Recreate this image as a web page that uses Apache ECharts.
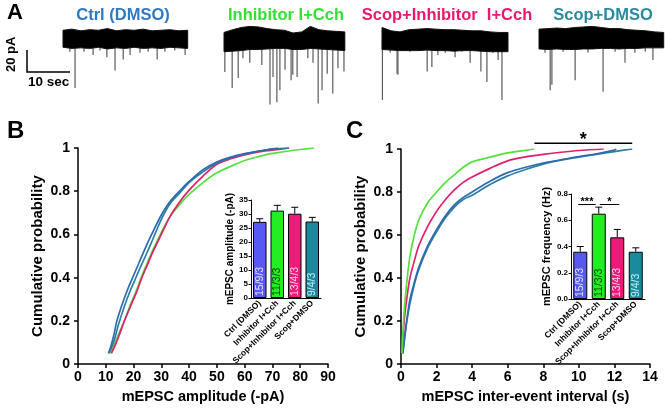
<!DOCTYPE html>
<html><head><meta charset="utf-8">
<script src="https://cdn.jsdelivr.net/npm/echarts@6/dist/echarts.min.js"></script>
<style>html,body{margin:0;padding:0;background:#fff}#c{width:666px;height:409px}</style>
</head><body><div id="c"></div>
<script>
// ---------- DATA ----------
const groups = ['Ctrl (DMSO)', 'Inhibitor I+Cch', 'Scop+Inhibitor I+Cch', 'Scop+DMSO'];
const traceTitles = ['Ctrl (DMSO)', 'Inhibitor I+Cch', 'Scop+Inhibitor  I+Cch', 'Scop+DMSO'];
const nLabels = ['15/9/3', '11/3/3', '13/4/3', '9/4/3'];

// Panel A traces (seconds, pA)
const traceDur = [29, 28.1, 29.3, 29];
const bandTop = [
  [8.5, 9.5, 8, 9, 8.5, 10, 8, 9, 8.5, 9.5, 8, 8.5, 9, 8, 8.5],
  [6.5, 9, 11, 12, 11.5, 10, 9, 8.5, 6, 7, 12, 9, 8, 7.5, 7],
  [11, 8, 7, 9, 9.5, 10, 9.5, 9, 9, 8.5, 8, 8, 7, 6.5, 6.5],
  [9.5, 10, 10.5, 10, 11, 11.5, 12, 11, 10, 10, 9, 8.5, 8, 7, 6.5]
];
const bandBot = [
  [-7, -8, -7.5, -8, -7, -8.5, -7.5, -8, -7, -8, -7.5, -8, -7, -7.5, -8],
  [-11, -10.5, -10, -9, -9, -8.5, -8, -8, -9, -9, -8, -8.5, -9, -9.5, -10],
  [-9, -9.5, -10, -10, -10, -9.5, -10, -10, -10.5, -10, -10, -10.5, -11, -11, -11],
  [-8.5, -9, -8.5, -9, -9, -8.5, -8.5, -8, -8, -8.5, -8, -8, -7.5, -7.5, -7.5]
];
const spikeT = [
  [1.6, 2.8, 4.9, 7.0, 8.6, 10.2, 12.1, 14.0, 15.6, 17.9, 19.8, 21.9, 23.7, 26.0, 28.4],
  [0.2, 1.9, 3.3, 4.4, 6.0, 8.8, 10.7, 11.4, 12.3, 13.0, 14.2, 15.6, 16.0, 17.0, 19.5, 20.7, 21.9, 22.8, 24.0, 25.3, 26.5, 27.9],
  [0.1, 1.9, 3.5, 3.7, 6.5, 10.5, 11.6, 13.0, 14.7, 17.0, 18.6, 20.5, 23.0, 24.4, 25.8, 27.0, 27.9],
  [1.4, 2.6, 3.0, 5.6, 8.4, 11.4, 14.9, 17.7, 20.0, 22.3, 24.7, 26.5]
];
const spikeA = [
  [-11, -44, -11, -14, -10, -16, -28, -18, -14, -12, -11, -18, -11, -10, -14],
  [-29.5, -44, -35, -17, -21, -23, -59, -34, -57, -46, -27.5, -37, -32, -34, -17, -21, -58, -46, -31, -49, -26, -29],
  [-55, -12, -31, -32, -11, -29, -25, -14, -12, -16, -11, -21, -29, -38.5, -12, -18.5, -55],
  [-12, -46, -41, -11, -37, -12, -47.5, -11, -21, -12, -11, -18.5]
];

// Panel B: amplitude CDFs [pA, probability]
const ampCtrl = [[11,0.05],[12,0.09],[13,0.14],[14,0.2],[16,0.28],[18,0.35],[20,0.41],[22,0.47],[24,0.53],[26.5,0.6],[30,0.69],[33,0.75],[36.5,0.8],[40,0.845],[45,0.9],[50,0.935],[55,0.958],[60,0.974],[65,0.986],[70,0.996],[72,1]];
const ampInh = [[11.5,0.05],[13,0.09],[15,0.15],[17,0.21],[19,0.28],[21,0.34],[23,0.41],[25,0.47],[27,0.53],[30,0.61],[33,0.68],[36,0.73],[40,0.785],[45,0.84],[50,0.885],[55,0.915],[60,0.942],[65,0.96],[70,0.975],[75,0.985],[80,0.993],[85,1]];
const ampScopInh = [[12,0.05],[13.5,0.09],[15,0.14],[17,0.21],[19,0.27],[21,0.33],[23,0.4],[25,0.46],[27,0.52],[30,0.6],[33,0.68],[36,0.74],[40,0.805],[45,0.87],[50,0.925],[55,0.95],[60,0.968],[65,0.982],[70,0.99],[73,0.995],[76,1]];
const ampScopDmso = [[11,0.05],[12.5,0.09],[13.5,0.13],[14.5,0.18],[16.5,0.26],[18.5,0.33],[20.5,0.39],[22.5,0.45],[25,0.52],[27,0.58],[30,0.67],[33,0.74],[36.5,0.79],[40,0.84],[45,0.89],[50,0.93],[55,0.955],[60,0.972],[65,0.985],[70,0.995],[76,1]];

// Panel C: inter-event interval CDFs [s, probability]
const iviCtrl = [[0.1,0.05],[0.15,0.09],[0.25,0.16],[0.35,0.22],[0.5,0.3],[0.75,0.38],[1,0.45],[1.5,0.55],[2,0.625],[2.5,0.69],[3,0.74],[3.5,0.775],[4,0.8],[5,0.85],[6,0.89],[7,0.915],[8,0.935],[9,0.95],[10,0.965],[11,0.978],[12,0.995],[12.1,1]];
const iviInh = [[0.05,0.05],[0.1,0.14],[0.2,0.27],[0.35,0.4],[0.5,0.5],[0.75,0.6],[1,0.67],[1.5,0.75],[2,0.8],[2.5,0.845],[3,0.88],[3.5,0.915],[4,0.94],[5,0.962],[6,0.982],[7,0.994],[7.5,1]];
const iviScopInh = [[0.05,0.05],[0.1,0.11],[0.2,0.22],[0.35,0.32],[0.5,0.4],[0.75,0.48],[1,0.55],[1.5,0.64],[2,0.71],[2.5,0.765],[3,0.81],[3.5,0.845],[4,0.87],[5,0.91],[6,0.945],[7,0.963],[8,0.975],[9,0.985],[10,0.993],[11.4,1]];
const iviScopDmso = [[0.1,0.05],[0.15,0.08],[0.25,0.15],[0.35,0.21],[0.5,0.28],[0.75,0.37],[1,0.44],[1.5,0.54],[2,0.615],[2.5,0.68],[3,0.73],[3.5,0.765],[4,0.785],[5,0.835],[6,0.875],[7,0.905],[8,0.93],[9,0.948],[10,0.962],[11,0.975],[12,0.988],[13,1]];

// Insets: mean and mean+SEM
const ampMean = [27.2, 31.2, 30.1, 27.3];
const ampErr  = [28.3, 33.1, 32.4, 28.8];
const freqMean = [0.36, 0.65, 0.47, 0.36];
const freqErr  = [0.40, 0.70, 0.53, 0.39];
const mainSig = [7.5, 13, 1.027, '*'];
const insetSig = [[0, 1, 0.72, '***'], [1, 2, 0.72, '*']];

// ---------- STYLE ----------
const FONT = '"Liberation Sans", Arial, sans-serif';
const titleCol = ['#2f78c4', '#33e033', '#e8196e', '#2a8aa0'];
const lineCol = ['#2e6aad', '#55e040', '#e0206a', '#2b7fa6'];
const barCol = ['#5858f4', '#22ee22', '#ee1a7a', '#1a8a9c'];
const labCol = ['#e4e4ff', '#0b3d0b', '#ffd6ea', '#c4f2f8'];

const chart = echarts.init(document.getElementById('c'), null, {renderer: 'canvas'});

const grids = [], xAxes = [], yAxes = [], series = [];
function hiddenAxis(extra) { return Object.assign({show: false}, extra); }

// grid 0: scale bar (20 pA x 10 s)
grids.push({left: 27, top: 50, width: 43, height: 22});
xAxes.push(hiddenAxis({type: 'value', gridIndex: 0, min: 0, max: 10}));
yAxes.push(hiddenAxis({type: 'value', gridIndex: 0, min: 0, max: 20}));
series.push({
  type: 'custom', xAxisIndex: 0, yAxisIndex: 0, clip: false, data: [[0, 20, 10]],
  renderItem: (p, api) => {
    const a = api.coord([0, api.value(1)]), o = api.coord([0, 0]), b = api.coord([api.value(2), 0]);
    return {type: 'polyline', shape: {points: [a, o, b]}, style: {stroke: '#000', lineWidth: 1.5, fill: null}};
  }
});

// grids 1-4: traces
const traceLeft = [63, 224, 382, 539];
for (let k = 0; k < 4; k++) {
  const gi = k + 1;
  grids.push({left: traceLeft[k], top: 22, width: traceDur[k] * 4.3, height: 86 * 1.1});
  xAxes.push(hiddenAxis({type: 'value', gridIndex: gi, min: 0, max: traceDur[k]}));
  yAxes.push(hiddenAxis({type: 'value', gridIndex: gi, min: -70, max: 16}));
  series.push({
    type: 'bar', xAxisIndex: gi, yAxisIndex: gi, barWidth: 1.2, z: 1,
    itemStyle: {color: '#5a5a5a'}, silent: true,
    data: spikeT[k].map((t, i) => [t, spikeA[k][i]])
  });
  const kk = k;
  series.push({
    type: 'custom', xAxisIndex: gi, yAxisIndex: gi, z: 3, clip: false, data: [[0]],
    renderItem: (p, api) => {
      const n = bandTop[kk].length, dur = traceDur[kk];
      const top = bandTop[kk].map((v, i) => api.coord([i * dur / (n - 1), v]));
      const bot = bandBot[kk].map((v, i) => api.coord([i * dur / (n - 1), v])).reverse();
      return {type: 'polygon', shape: {points: top.concat(bot)}, style: {fill: '#000', stroke: '#111', lineWidth: 1}};
    }
  });
}

// main axes helper
function mainX(gi, max, name) {
  return {
    type: 'value', gridIndex: gi, min: 0, max: max, interval: max === 90 ? 10 : 2,
    name: name, nameLocation: 'middle', nameGap: 23,
    nameTextStyle: {fontFamily: FONT, fontWeight: 'bold', fontSize: 14.5, color: '#000'},
    axisLine: {lineStyle: {color: '#000', width: 1.5}},
    axisTick: {show: true, length: 4, lineStyle: {color: '#000', width: 1.5}},
    axisLabel: {fontFamily: FONT, fontWeight: 'bold', fontSize: 14, color: '#000', margin: 6},
    splitLine: {show: false}
  };
}
function mainY(gi) {
  return {
    type: 'value', gridIndex: gi, min: 0, max: 1, interval: 0.2,
    name: 'Cumulative probability', nameLocation: 'middle', nameGap: 33, nameRotate: 90,
    nameTextStyle: {fontFamily: FONT, fontWeight: 'bold', fontSize: 15, color: '#000'},
    axisLine: {show: true, lineStyle: {color: '#000', width: 1.5}},
    axisTick: {show: true, length: 4, lineStyle: {color: '#000', width: 1.5}},
    axisLabel: {fontFamily: FONT, fontWeight: 'bold', fontSize: 14, color: '#000', margin: 8},
    splitLine: {show: false}
  };
}
function curve(gi, data, col) {
  return {type: 'line', xAxisIndex: gi, yAxisIndex: gi, data: data, smooth: 0.3, symbol: 'none',
    lineStyle: {color: col, width: 1.7}, z: 2};
}

// grid 5: B main
grids.push({left: 78, top: 148, width: 250, height: 219});
xAxes.push(mainX(5, 90, 'mEPSC amplitude (-pA)'));
yAxes.push(mainY(5));
series.push(curve(5, ampInh, lineCol[1]));
series.push(curve(5, ampScopInh, lineCol[2]));
series.push(curve(5, ampScopDmso, lineCol[3]));
series.push(curve(5, ampCtrl, lineCol[0]));

// inset helper
function insetX(gi) {
  return {
    type: 'category', gridIndex: gi, data: groups,
    axisLine: {lineStyle: {color: '#000', width: 1}},
    axisTick: {show: false},
    axisLabel: {interval: 0, rotate: 45, fontFamily: FONT, fontWeight: 'bold', fontSize: 8.5, color: '#000', margin: 4}
  };
}
function insetY(gi, max, interval, name, fmt, gap, fs) {
  return {
    type: 'value', gridIndex: gi, min: 0, max: max, interval: interval,
    name: name, nameLocation: 'middle', nameGap: gap, nameRotate: 90,
    nameTextStyle: {fontFamily: FONT, fontWeight: 'bold', fontSize: fs, color: '#000'},
    axisLine: {show: true, lineStyle: {color: '#000', width: 1}},
    axisTick: {show: true, length: 2.5, lineStyle: {color: '#000'}},
    axisLabel: {fontFamily: FONT, fontWeight: 'bold', fontSize: 8, color: '#000', margin: 3, formatter: fmt},
    splitLine: {show: false}
  };
}
function insetBars(gi, vals, bw) {
  return {
    type: 'bar', xAxisIndex: gi, yAxisIndex: gi, barWidth: bw, z: 2,
    data: vals.map((v, i) => ({value: v, itemStyle: {color: barCol[i], borderColor: '#000', borderWidth: 1},
      label: {color: labCol[i]}})),
    label: {show: true, position: 'insideBottom', rotate: 90, align: 'left', verticalAlign: 'middle', distance: 2,
      fontFamily: FONT, fontSize: 10.5, formatter: p => nLabels[p.dataIndex]}
  };
}
function errBars(gi, means, errs) {
  return {
    type: 'custom', xAxisIndex: gi, yAxisIndex: gi, z: 3, clip: false,
    data: means.map((m, i) => [i, m, errs[i]]),
    renderItem: (p, api) => {
      const a = api.coord([api.value(0), api.value(1)]), b = api.coord([api.value(0), api.value(2)]);
      const st = {stroke: '#000', lineWidth: 1};
      return {type: 'group', children: [
        {type: 'line', shape: {x1: a[0], y1: a[1], x2: b[0], y2: b[1]}, style: st},
        {type: 'line', shape: {x1: b[0] - 3.5, y1: b[1], x2: b[0] + 3.5, y2: b[1]}, style: st}
      ]};
    }
  };
}

// grid 6: B inset
grids.push({left: 251, top: 200, width: 70, height: 98});
xAxes.push(insetX(6));
yAxes.push(insetY(6, 35, 5, 'mEPSC amplitude (-pA)', v => String(v), 15, 10));
series.push(insetBars(6, ampMean, 13.5));
series.push(errBars(6, ampMean, ampErr));

// grid 7: C main
grids.push({left: 401, top: 149, width: 249, height: 219});
xAxes.push(mainX(7, 14, 'mEPSC inter-event interval (s)'));
yAxes.push(mainY(7));
series.push(curve(7, iviScopDmso, lineCol[3]));
series.push(curve(7, iviCtrl, lineCol[0]));
series.push(curve(7, iviScopInh, lineCol[2]));
series.push(curve(7, iviInh, lineCol[1]));
series.push({
  type: 'custom', xAxisIndex: 7, yAxisIndex: 7, clip: false, data: [mainSig],
  renderItem: (p, api) => {
    const a = api.coord([api.value(0), api.value(2)]), b = api.coord([api.value(1), api.value(2)]);
    return {type: 'group', children: [
      {type: 'line', shape: {x1: a[0], y1: a[1], x2: b[0], y2: b[1]}, style: {stroke: '#000', lineWidth: 1.5}},
      {type: 'text', style: {text: mainSig[3], x: (a[0] + b[0]) / 2, y: a[1] + 6, align: 'center', verticalAlign: 'bottom',
        font: 'bold 18px ' + FONT, fill: '#000'}}
    ]};
  }
});

// grid 8: C inset
grids.push({left: 571, top: 194, width: 74, height: 105});
xAxes.push(insetX(8));
yAxes.push(insetY(8, 0.8, 0.2, 'mEPSC frequency (Hz)', v => v.toFixed(1), 19, 11));
series.push(insetBars(8, freqMean, 14));
series.push(errBars(8, freqMean, freqErr));
series.push({
  type: 'custom', xAxisIndex: 8, yAxisIndex: 8, clip: false, data: insetSig.map(s => [s[0], s[1], s[2]]),
  renderItem: (p, api) => {
    const a = api.coord([api.value(0), api.value(2)]), b = api.coord([api.value(1), api.value(2)]);
    const x1 = a[0] + (p.dataIndex === 0 ? -2 : 1), x2 = b[0] + (p.dataIndex === 0 ? -3 : 2);
    return {type: 'group', children: [
      {type: 'line', shape: {x1: x1, y1: a[1], x2: x2, y2: a[1]}, style: {stroke: '#000', lineWidth: 1}},
      {type: 'text', style: {text: insetSig[p.dataIndex][3], x: (x1 + x2) / 2, y: a[1] + 3, align: 'center', verticalAlign: 'bottom',
        font: 'bold 11px ' + FONT, fill: '#000'}}
    ]};
  }
});

// text annotations
const txt = (t, x, y, size, col, extra) => Object.assign({type: 'text', left: x, top: y,
  style: {text: t, font: 'bold ' + size + 'px ' + FONT, fill: col}}, extra || {});
const graphic = [
  txt('A', 7, 2, 22, '#000'),
  txt('B', 7, 119, 24, '#000'),
  txt('C', 346, 119, 24, '#000'),
  txt('10 sec', 28, 75, 13.5, '#000'),
  {type: 'text', x: 5, y: 72, rotation: Math.PI / 2,
    style: {text: '20 pA', font: 'bold 13px ' + FONT, fill: '#000', align: 'left', verticalAlign: 'top'}}
];
const titleCenters = [123, 286, 447, 603];
traceTitles.forEach((t, i) => graphic.push({type: 'text', x: titleCenters[i], y: 7,
  style: {text: t, font: 'bold 16.5px ' + FONT, fill: titleCol[i], align: 'center', verticalAlign: 'top'}}));

chart.setOption({
  animation: false,
  backgroundColor: '#fff',
  grid: grids, xAxis: xAxes, yAxis: yAxes, series: series, graphic: graphic
});
</script></body></html>
